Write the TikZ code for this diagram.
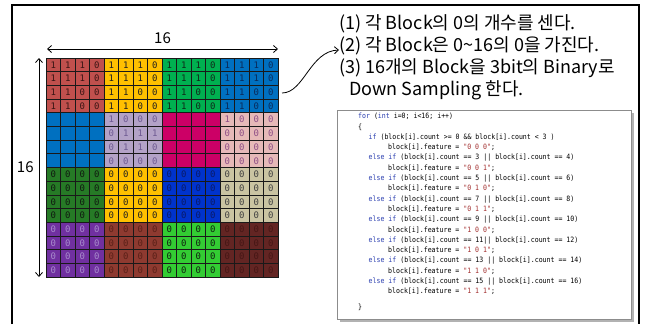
\documentclass[tikz,border=0pt]{standalone}
\usepackage{fontspec}
\setmainfont{Noto Sans CJK KR}
\newfontfamily\codefont{DejaVu Sans Mono}[FakeStretch=0.9]
\newfontfamily\digitfont{DejaVu Sans Mono}
\usetikzlibrary{arrows.meta}

% block colours (row, column)
\definecolor{blk00}{HTML}{C0504D}\definecolor{dig00}{HTML}{3A1514}
\definecolor{blk01}{HTML}{FFC000}\definecolor{dig01}{HTML}{202020}
\definecolor{blk02}{HTML}{00B050}\definecolor{dig02}{HTML}{102818}
\definecolor{blk03}{HTML}{0070C0}\definecolor{dig03}{HTML}{0A2A5A}
\definecolor{blk10}{HTML}{0070C0}\definecolor{dig10}{HTML}{0070C0}
\definecolor{blk11}{HTML}{B3A2C7}\definecolor{dig11}{HTML}{6E5A92}
\definecolor{blk12}{HTML}{CC0066}\definecolor{dig12}{HTML}{CC0066}
\definecolor{blk13}{HTML}{E6B9B8}\definecolor{dig13}{HTML}{8E4E86}
\definecolor{blk20}{HTML}{267A26}\definecolor{dig20}{HTML}{101A10}
\definecolor{blk21}{HTML}{FFC000}\definecolor{dig21}{HTML}{202020}
\definecolor{blk22}{HTML}{0033CC}\definecolor{dig22}{HTML}{0A1A66}
\definecolor{blk23}{HTML}{CAC4A2}\definecolor{dig23}{HTML}{404040}
\definecolor{blk30}{HTML}{7030A0}\definecolor{dig30}{HTML}{A88CCC}
\definecolor{blk31}{HTML}{8E3A30}\definecolor{dig31}{HTML}{5A2018}
\definecolor{blk32}{HTML}{33CC33}\definecolor{dig32}{HTML}{102010}
\definecolor{blk33}{HTML}{632523}\definecolor{dig33}{HTML}{451615}
\definecolor{kwblue}{HTML}{2B3FB0}
\definecolor{strred}{HTML}{A33030}

\newcommand{\codekw}[1]{\textcolor{kwblue}{#1}}
\newcommand{\codestr}[1]{\textcolor{strred}{#1}}

\begin{document}
\begin{tikzpicture}[x=1pt, y=-1pt, >={Straight Barb[length=4pt,width=7pt]},
  cell/.style={draw=black!90, line width=0.7pt},
  digit/.style={font=\digitfont\fontsize{9}{9}\selectfont, inner sep=0pt},
  dim/.style={<->, line width=0.8pt},
  dimlabel/.style={font=\fontsize{15}{15}\selectfont, inner sep=0pt},
  notes/.style={align=left, font=\fontsize{18}{22}\selectfont, inner sep=0pt},
  codebox/.style={draw=black!45, fill=white, line width=0.8pt},
  code/.style={align=left, font=\codefont\fontsize{7.3}{10.3}\selectfont, inner sep=0pt}]
  \useasboundingbox (0,0) rectangle (647,324);

  % outer frame
  \draw[line width=1.2pt] (12,324) -- (12,5) -- (639,5) -- (639,324);

  % 16x16 grid
  \foreach \row [count=\r from 0] in {
    {1,1,1,0,1,1,1,0,1,1,1,0,1,1,1,0},
    {1,1,1,0,1,1,1,0,1,1,1,0,1,1,1,0},
    {1,1,0,0,1,1,0,0,1,1,0,0,1,1,0,0},
    {1,1,0,0,1,1,0,0,1,1,0,0,1,1,0,0},
    {-,-,-,-,1,0,0,0,-,-,-,-,1,0,0,0},
    {-,-,-,-,0,1,1,1,-,-,-,-,0,0,0,0},
    {-,-,-,-,0,1,1,0,-,-,-,-,0,0,0,0},
    {-,-,-,-,0,0,0,0,-,-,-,-,0,0,0,0},
    {0,0,0,0,0,0,0,0,0,0,0,0,0,0,0,0},
    {0,0,0,0,0,0,0,0,0,0,0,0,0,0,0,0},
    {0,0,0,0,0,0,0,0,0,0,0,0,0,0,0,0},
    {0,0,0,0,0,0,0,0,0,0,0,0,0,0,0,0},
    {0,0,0,0,0,0,0,0,0,0,0,0,0,0,0,0},
    {0,0,0,0,0,0,0,0,0,0,0,0,0,0,0,0},
    {0,0,0,0,0,0,0,0,0,0,0,0,0,0,0,0},
    {0,0,0,0,0,0,0,0,0,0,0,0,0,0,0,0}}{
    \foreach \d [count=\c from 0] in \row {
      \pgfmathtruncatemacro\br{\r/4}
      \pgfmathtruncatemacro\bc{\c/4}
      \draw[cell, fill=blk\br\bc] (46+14.5*\c,58+13.69*\r) rectangle ++(14.5,13.69);
      \if\d-\else
        \node[digit, text=dig\br\bc] (d-\r-\c) at (53.25+14.5*\c,64.9+13.69*\r) {\d};
      \fi
    }
  }

  % dimensions
  \coordinate (htl) at (47,49);
  \coordinate (htr) at (278,49);
  \coordinate (vtop) at (39,58);
  \coordinate (vbot) at (39,277);
  \draw[dim] (htl) -- (htr) node[dimlabel, midway, above=5pt] (wlabel) {16};
  \draw[dim] (vtop) -- (vbot) node[dimlabel, midway, left=5pt] (hlabel) {16};

  % notes and arrow
  \node[notes, anchor=north west] (notes) at (339,14)
    {(1) 각 Block의 0의 개수를 센다.\\
     (2) 각 Block은 0\textasciitilde16의 0을 가진다.\\
     (3) 16개의 Block을 3bit의 Binary로\\
     \hspace*{10pt}Down Sampling 한다.};
  \coordinate (gridout) at (282,93);
  \coordinate (notein) at (339,50);
  \draw[->, line width=0.8pt] (gridout) .. controls (304,93) and (310,51) .. (notein);

  % code box
  \fill[black!30] (339.5,112.5) rectangle (633.5,321.5);
  \draw[codebox] (337,110) rectangle (631,319);
  \node[code, anchor=north west] (code) at (358,113)
    {\codekw{for} (\codekw{int} i=0; i<16; i++)\\
     \{\\
     \hspace*{10.5pt}\codekw{if} (block[i].count >= 0 \&\& block[i].count < 3 )\\
     \hspace*{30pt}block[i].feature = \codestr{"0 0 0"};\\
     \hspace*{10.5pt}\codekw{else if} (block[i].count == 3 || block[i].count == 4)\\
     \hspace*{30pt}block[i].feature = \codestr{"0 0 1"};\\
     \hspace*{10.5pt}\codekw{else if} (block[i].count == 5 || block[i].count == 6)\\
     \hspace*{30pt}block[i].feature = \codestr{"0 1 0"};\\
     \hspace*{10.5pt}\codekw{else if} (block[i].count == 7 || block[i].count == 8)\\
     \hspace*{30pt}block[i].feature = \codestr{"0 1 1"};\\
     \hspace*{10.5pt}\codekw{else if} (block[i].count == 9 || block[i].count == 10)\\
     \hspace*{30pt}block[i].feature = \codestr{"1 0 0"};\\
     \hspace*{10.5pt}\codekw{else if} (block[i].count == 11|| block[i].count == 12)\\
     \hspace*{30pt}block[i].feature = \codestr{"1 0 1"};\\
     \hspace*{10.5pt}\codekw{else if} (block[i].count == 13 || block[i].count == 14)\\
     \hspace*{30pt}block[i].feature = \codestr{"1 1 0"};\\
     \hspace*{10.5pt}\codekw{else if} (block[i].count == 15 || block[i].count == 16)\\
     \hspace*{30pt}block[i].feature = \codestr{"1 1 1"};\\[5pt]
     \}};
\end{tikzpicture}
\end{document}
